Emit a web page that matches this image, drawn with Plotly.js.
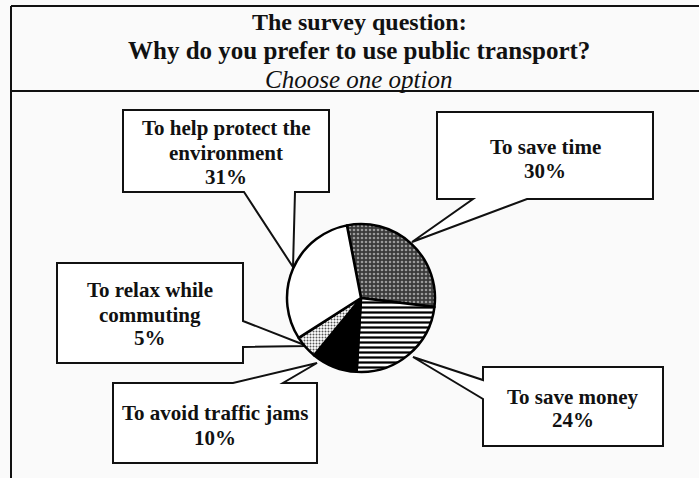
<!DOCTYPE html>
<html>
<head>
<meta charset="utf-8">
<script src="https://cdn.plot.ly/plotly-3.0.1.min.js"></script>
<style>html,body{margin:0;padding:0;background:#fafafa;}#chart{width:699px;height:478px;}</style>
</head>
<body>
<div id="chart"></div>
<script>
// ---- data ----
var categories = ['To save time', 'To save money', 'To avoid traffic jams', 'To relax while commuting', 'To help protect the environment'];
var boxLabels = ['To save time', 'To save money', 'To avoid traffic jams', 'To relax while\ncommuting', 'To help protect the\nenvironment'];
var values = [30, 24, 10, 5, 31];
var titleLines = ['The survey question:', 'Why do you prefer to use public transport?', 'Choose one option'];

// ---- styles ----
var sliceBg = ['#3a3a3a', '#ffffff', '#000000', '#ffffff', '#ffffff'];
var sliceFg = ['#9a9a9a', '#000000', '#000000', '#555555', '#ffffff'];
var sliceShape = ['.', '-', '', '.', ''];
var sliceSize = [4, 5, 4, 3, 4];
var sliceSolid = [0.35, 0.45, 0.3, 0.35, 0.3];

var W = 699, H = 478;
function X(p) { return p / W; }
function Y(p) { return 1 - p / H; }

// callout geometry (pixels); lineY = baseline-centre of each text line
var callouts = [
  { box: [437, 112, 653, 199], side: 'bottom', gap: [473, 527], tip: [412, 242], cx: 545, lineY: [147, 171] },
  { box: [483, 367, 663, 446], side: 'left', gap: [380, 399], tip: [413, 357], cx: 573, lineY: [397, 420] },
  { box: [113, 383, 317, 463], side: 'top', gap: [233, 283], tip: [317, 363], cx: 215, lineY: [413, 438] },
  { box: [57, 263, 243, 363], side: 'right', gap: [321, 347], tip: [307, 346], cx: 150, lineY: [290, 315, 338] },
  { box: [123, 110, 329, 192], side: 'bottom', gap: [244, 295], tip: [293, 267], cx: 226, lineY: [128, 153, 177] }
];

function calloutPath(c) {
  var l = c.box[0], t = c.box[1], r = c.box[2], b = c.box[3];
  var pts = [];
  if (c.side === 'bottom') {
    pts = [[l, t], [r, t], [r, b], [c.gap[1], b], c.tip, [c.gap[0], b], [l, b]];
  } else if (c.side === 'top') {
    pts = [[l, t], [c.gap[0], t], c.tip, [c.gap[1], t], [r, t], [r, b], [l, b]];
  } else if (c.side === 'left') {
    pts = [[l, t], [r, t], [r, b], [l, b], [l, c.gap[1]], c.tip, [l, c.gap[0]]];
  } else {
    pts = [[l, t], [r, t], [r, c.gap[0]], c.tip, [r, c.gap[1]], [r, b], [l, b]];
  }
  return 'M' + pts.map(function (p) { return X(p[0]).toFixed(5) + ',' + Y(p[1]).toFixed(5); }).join(' L') + ' Z';
}

var shapes = [];
shapes.push({ type: 'line', xref: 'paper', yref: 'paper', x0: X(11), x1: X(11), y0: Y(6), y1: Y(478), line: { color: '#111', width: 2 } });
shapes.push({ type: 'line', xref: 'paper', yref: 'paper', x0: X(11), x1: X(699), y0: Y(6), y1: Y(6), line: { color: '#111', width: 2 } });
shapes.push({ type: 'line', xref: 'paper', yref: 'paper', x0: X(11), x1: X(699), y0: Y(91), y1: Y(91), line: { color: '#111', width: 2 } });

var serif = 'Liberation Serif, Times New Roman, serif';
var annotations = [];
callouts.forEach(function (c, i) {
  shapes.push({ type: 'path', xref: 'paper', yref: 'paper', path: calloutPath(c), fillcolor: '#ffffff', line: { color: '#111', width: 2 }, layer: 'below' });
  var lines = boxLabels[i].split('\n').concat([values[i] + '%']);
  lines.forEach(function (txt, k) {
    annotations.push({
      xref: 'paper', yref: 'paper', x: X(c.cx), y: Y(c.lineY[k]), xanchor: 'center', yanchor: 'middle',
      showarrow: false, text: '<b>' + txt + '</b>',
      font: { family: serif, size: 21, color: '#111' }
    });
  });
});

var titleY = [22, 51, 79];
var titleSize = [24, 25, 25];
titleLines.forEach(function (txt, k) {
  annotations.push({
    xref: 'paper', yref: 'paper', x: X(359), y: Y(titleY[k]), xanchor: 'center', yanchor: 'middle', showarrow: false,
    text: k < 2 ? '<b>' + txt + '</b>' : '<i>' + txt + '</i>',
    font: { family: serif, size: titleSize[k], color: '#111' }
  });
});

var cx = 361, cy = 298, rad = 74;
var trace = {
  type: 'pie',
  labels: categories,
  values: values,
  sort: false,
  direction: 'clockwise',
  rotation: -11,
  textinfo: 'none',
  hoverinfo: 'label+percent',
  showlegend: false,
  domain: { x: [X(cx - rad), X(cx + rad)], y: [Y(cy + rad), Y(cy - rad)] },
  marker: {
    colors: sliceBg,
    line: { color: '#000', width: 2.5 },
    pattern: { shape: sliceShape, fgcolor: sliceFg, bgcolor: sliceBg, size: sliceSize, solidity: sliceSolid, fillmode: 'replace' }
  }
};

var layout = {
  width: W, height: H,
  margin: { l: 0, r: 0, t: 0, b: 0 },
  paper_bgcolor: '#fafafa',
  plot_bgcolor: '#fafafa',
  showlegend: false,
  shapes: shapes,
  annotations: annotations
};

Plotly.newPlot('chart', [trace], layout, { displayModeBar: false, staticPlot: true });
</script>
</body>
</html>
